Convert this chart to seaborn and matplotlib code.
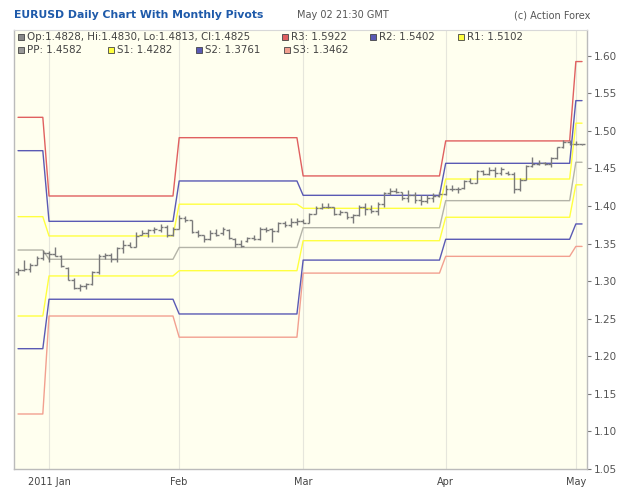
import numpy as np
import pandas as pd
import matplotlib
matplotlib.use("Agg")
import matplotlib.pyplot as plt
import seaborn as sns
from matplotlib.patches import Rectangle

# ---------------- data (trading days Dec 27 2010 .. May 3 2011) ----------------
opens = [1.3120, 1.3150, 1.3160, 1.3220, 1.3310,
         1.3380, 1.3360, 1.3340, 1.3180, 1.3020, 1.2910, 1.2940, 1.2960, 1.3120, 1.3340,
         1.3350, 1.3300, 1.3440, 1.3480, 1.3460, 1.3620, 1.3640, 1.3680, 1.3680, 1.3720, 1.3610,
         1.3700, 1.3840, 1.3810, 1.3650, 1.3610, 1.3560, 1.3640, 1.3640, 1.3680, 1.3560,
         1.3500, 1.3530, 1.3570, 1.3560, 1.3700, 1.3700, 1.3670, 1.3770, 1.3750, 1.3790,
         1.3800, 1.3780, 1.3900, 1.3970, 1.3990, 1.3980, 1.3900, 1.3920, 1.3850, 1.3880,
         1.3990, 1.3960, 1.3930, 1.4020, 1.4170, 1.4200, 1.4190, 1.4100, 1.4150, 1.4080,
         1.4060, 1.4110, 1.4130,
         1.4160, 1.4230, 1.4220, 1.4240, 1.4330, 1.4310, 1.4470, 1.4430, 1.4480, 1.4440,
         1.4440, 1.4430, 1.4230, 1.4350, 1.4530, 1.4560, 1.4570, 1.4560, 1.4640, 1.4780,
         1.4850,
         1.4830, 1.4828]
highs = [1.3180, 1.3280, 1.3240, 1.3340, 1.3410,
         1.3400, 1.3450, 1.3350, 1.3190, 1.3040, 1.2960, 1.2980, 1.3140, 1.3360, 1.3380,
         1.3380, 1.3460, 1.3550, 1.3525, 1.3660, 1.3680, 1.3700, 1.3725, 1.3757, 1.3750, 1.3720,
         1.3880, 1.3862, 1.3820, 1.3680, 1.3615, 1.3680, 1.3700, 1.3725, 1.3690, 1.3570,
         1.3548, 1.3590, 1.3614, 1.3725, 1.3725, 1.3710, 1.3791, 1.3800, 1.3836, 1.3836,
         1.3830, 1.3903, 1.3995, 1.4036, 1.4040, 1.3991, 1.3947, 1.3925, 1.3900, 1.4013,
         1.4036, 1.4013, 1.4058, 1.4191, 1.4240, 1.4240, 1.4191, 1.4213, 1.4191, 1.4146,
         1.4146, 1.4169, 1.4191,
         1.4280, 1.4280, 1.4257, 1.4346, 1.4368, 1.4480, 1.4478, 1.4523, 1.4523, 1.4523,
         1.4470, 1.4456, 1.4368, 1.4546, 1.4656, 1.4612, 1.4590, 1.4656, 1.4789, 1.4878,
         1.4880,
         1.4860, 1.4830]
lows = [1.3080, 1.3130, 1.3120, 1.3210, 1.3280,
        1.3260, 1.3330, 1.3190, 1.3010, 1.2900, 1.2875, 1.2900, 1.2950, 1.3100, 1.3290,
        1.3250, 1.3250, 1.3370, 1.3458, 1.3450, 1.3610, 1.3590, 1.3637, 1.3660, 1.3590, 1.3600,
        1.3690, 1.3790, 1.3640, 1.3590, 1.3525, 1.3550, 1.3600, 1.3620, 1.3560, 1.3460,
        1.3450, 1.3520, 1.3548, 1.3548, 1.3658, 1.3525, 1.3658, 1.3725, 1.3725, 1.3750,
        1.3770, 1.3770, 1.3890, 1.3960, 1.3970, 1.3880, 1.3880, 1.3830, 1.3770, 1.3870,
        1.3880, 1.3903, 1.3880, 1.3991, 1.4150, 1.4169, 1.4080, 1.4058, 1.4036, 1.4013,
        1.4036, 1.4058, 1.4124,
        1.4150, 1.4200, 1.4169, 1.4225, 1.4302, 1.4300, 1.4412, 1.4412, 1.4390, 1.4412,
        1.4412, 1.4169, 1.4200, 1.4340, 1.4523, 1.4546, 1.4546, 1.4523, 1.4630, 1.4770,
        1.4810,
        1.4812, 1.4813]
closes = [1.3150, 1.3160, 1.3220, 1.3310, 1.3380,
          1.3360, 1.3340, 1.3200, 1.3020, 1.2910, 1.2940, 1.2960, 1.3120, 1.3340, 1.3350,
          1.3300, 1.3440, 1.3480, 1.3460, 1.3600, 1.3640, 1.3680, 1.3700, 1.3720, 1.3610, 1.3700,
          1.3840, 1.3810, 1.3650, 1.3610, 1.3560, 1.3640, 1.3620, 1.3700, 1.3580, 1.3500,
          1.3470, 1.3570, 1.3560, 1.3700, 1.3680, 1.3670, 1.3770, 1.3750, 1.3790, 1.3800,
          1.3780, 1.3890, 1.3970, 1.3990, 1.3980, 1.3900, 1.3920, 1.3850, 1.3880, 1.3990,
          1.3960, 1.3930, 1.4020, 1.4170, 1.4200, 1.4190, 1.4100, 1.4150, 1.4080, 1.4060,
          1.4110, 1.4130, 1.4160,
          1.4230, 1.4220, 1.4230, 1.4330, 1.4310, 1.4470, 1.4430, 1.4480, 1.4440, 1.4490,
          1.4430, 1.4230, 1.4350, 1.4530, 1.4560, 1.4570, 1.4560, 1.4640, 1.4780, 1.4850,
          1.4830,
          1.4828, 1.4825]

# bars per month: Dec(tail), Jan, Feb, Mar, Apr, May
month_bars = [5, 21, 20, 23, 21, 2]
month_labels = ["2011 Jan", "Feb", "Mar", "Apr", "May"]

# monthly pivot levels (Dec, Jan, Feb, Mar, Apr, May)
pivot_r3 = [1.5180, 1.4133, 1.4909, 1.4400, 1.4866, 1.5922]
pivot_r2 = [1.4736, 1.3796, 1.4333, 1.4142, 1.4568, 1.5402]
pivot_r1 = [1.3858, 1.3601, 1.4024, 1.3969, 1.4359, 1.5102]
pivot_pp = [1.3414, 1.3291, 1.3448, 1.3711, 1.4071, 1.4582]
pivot_s1 = [1.2536, 1.3069, 1.3139, 1.3538, 1.3850, 1.4282]
pivot_s2 = [1.2101, 1.2759, 1.2563, 1.3280, 1.3557, 1.3761]
pivot_s3 = [1.1232, 1.2536, 1.2254, 1.3107, 1.3330, 1.3462]

# ---------------- figure ----------------
sns.set_style("white")
plt.rcParams['font.family'] = ['DejaVu Sans']

fig = plt.figure(figsize=(6.25, 4.99), dpi=100)
ax = fig.add_axes([14 / 625, (499 - 469) / 499, (587 - 14) / 625, (469 - 30) / 499])
ax.set_facecolor('#FFFFEF')

n = len(opens)
xs = np.arange(n)
month_start = np.cumsum([0] + month_bars)[1:-1]

pivots = {
    'S3': (pivot_s3, '#F2A090'),
    'S2': (pivot_s2, '#5A5AB4'),
    'S1': (pivot_s1, '#FFFF40'),
    'PP': (pivot_pp, '#B4B4A8'),
    'R1': (pivot_r1, '#FFFF40'),
    'R2': (pivot_r2, '#5A5AB4'),
    'R3': (pivot_r3, '#E06060'),
}

# grid lines at month starts
for m in month_start:
    ax.axvline(m, color='#E6E6DC', lw=0.8, zorder=0)

for name, (vals, col) in pivots.items():
    per_bar = np.repeat(vals, month_bars)
    df = pd.DataFrame({'x': xs, 'y': per_bar})
    sns.lineplot(data=df, x='x', y='y', ax=ax, color=col, lw=1.0, zorder=2)

# OHLC bars
bar_col = '#7A7A7A'
ax.vlines(xs, lows, highs, color=bar_col, lw=1.0, zorder=3)
ax.hlines(opens, xs - 0.45, xs, color=bar_col, lw=1.0, zorder=3)
ax.hlines(closes, xs, xs + 0.45, color=bar_col, lw=1.0, zorder=3)

ax.set_xlim(-0.65, 91.8)
ax.set_ylim(1.05, 1.6342)
ax.set_xlabel('')
ax.set_ylabel('')

ax.set_xticks(month_start)
ax.set_xticklabels(month_labels, fontsize=7, color='#444444')
yt = np.round(np.arange(1.05, 1.6001, 0.05), 2)
ax.yaxis.tick_right()
ax.set_yticks(yt)
ax.set_yticklabels([f"{v:.2f}" for v in yt], fontsize=7.5, color='#555555')
ax.tick_params(axis='both', length=3, width=0.8, color='#777777', pad=2)
ax.tick_params(axis='x', pad=3)

for side in ['left', 'bottom', 'right']:
    ax.spines[side].set_color('#BBBBBB')
    ax.spines[side].set_linewidth(1.0)
    ax.spines[side].set_visible(True)
ax.spines['top'].set_color('#D8D8D8')
ax.spines['top'].set_visible(True)

# ---------------- header texts ----------------
fig.text(14 / 625, 1 - 15 / 499, "EURUSD Daily Chart With Monthly Pivots", fontsize=7.8,
         fontweight='bold', color='#1E5AAA', va='center', ha='left')
fig.text(297 / 625, 1 - 15 / 499, "May 02 21:30 GMT", fontsize=7, color='#555555',
         va='center', ha='left')
fig.text(590 / 625, 1 - 15 / 499, "(c) Action Forex", fontsize=7, color='#555555',
         va='center', ha='right')

# ---------------- legend inside the chart box ----------------
legend_items = [
    (18, 37, '#888888', f"Op:{opens[-1]:.4f}, Hi:{highs[-1]:.4f}, Lo:{lows[-1]:.4f}, Cl:{closes[-1]:.4f}"),
    (282, 37, '#E06060', f"R3: {pivot_r3[-1]:.4f}"),
    (370, 37, '#5A5AB4', f"R2: {pivot_r2[-1]:.4f}"),
    (458, 37, '#FFFF40', f"R1: {pivot_r1[-1]:.4f}"),
    (18, 50, '#999999', f"PP: {pivot_pp[-1]:.4f}"),
    (108, 50, '#FFFF40', f"S1: {pivot_s1[-1]:.4f}"),
    (196, 50, '#5A5AB4', f"S2: {pivot_s2[-1]:.4f}"),
    (284, 50, '#F2A090', f"S3: {pivot_s3[-1]:.4f}"),
]
for px, py, col, txt in legend_items:
    fig.patches.append(Rectangle((px / 625, 1 - (py + 3) / 499), 6 / 625, 6 / 499,
                                 transform=fig.transFigure, facecolor=col,
                                 edgecolor='#444444', lw=0.6, zorder=5))
    fig.text((px + 9) / 625, 1 - py / 499, txt, fontsize=7.4, color='#444444',
             va='center', ha='left')

fig.savefig('out.png', dpi=100, facecolor='white')
